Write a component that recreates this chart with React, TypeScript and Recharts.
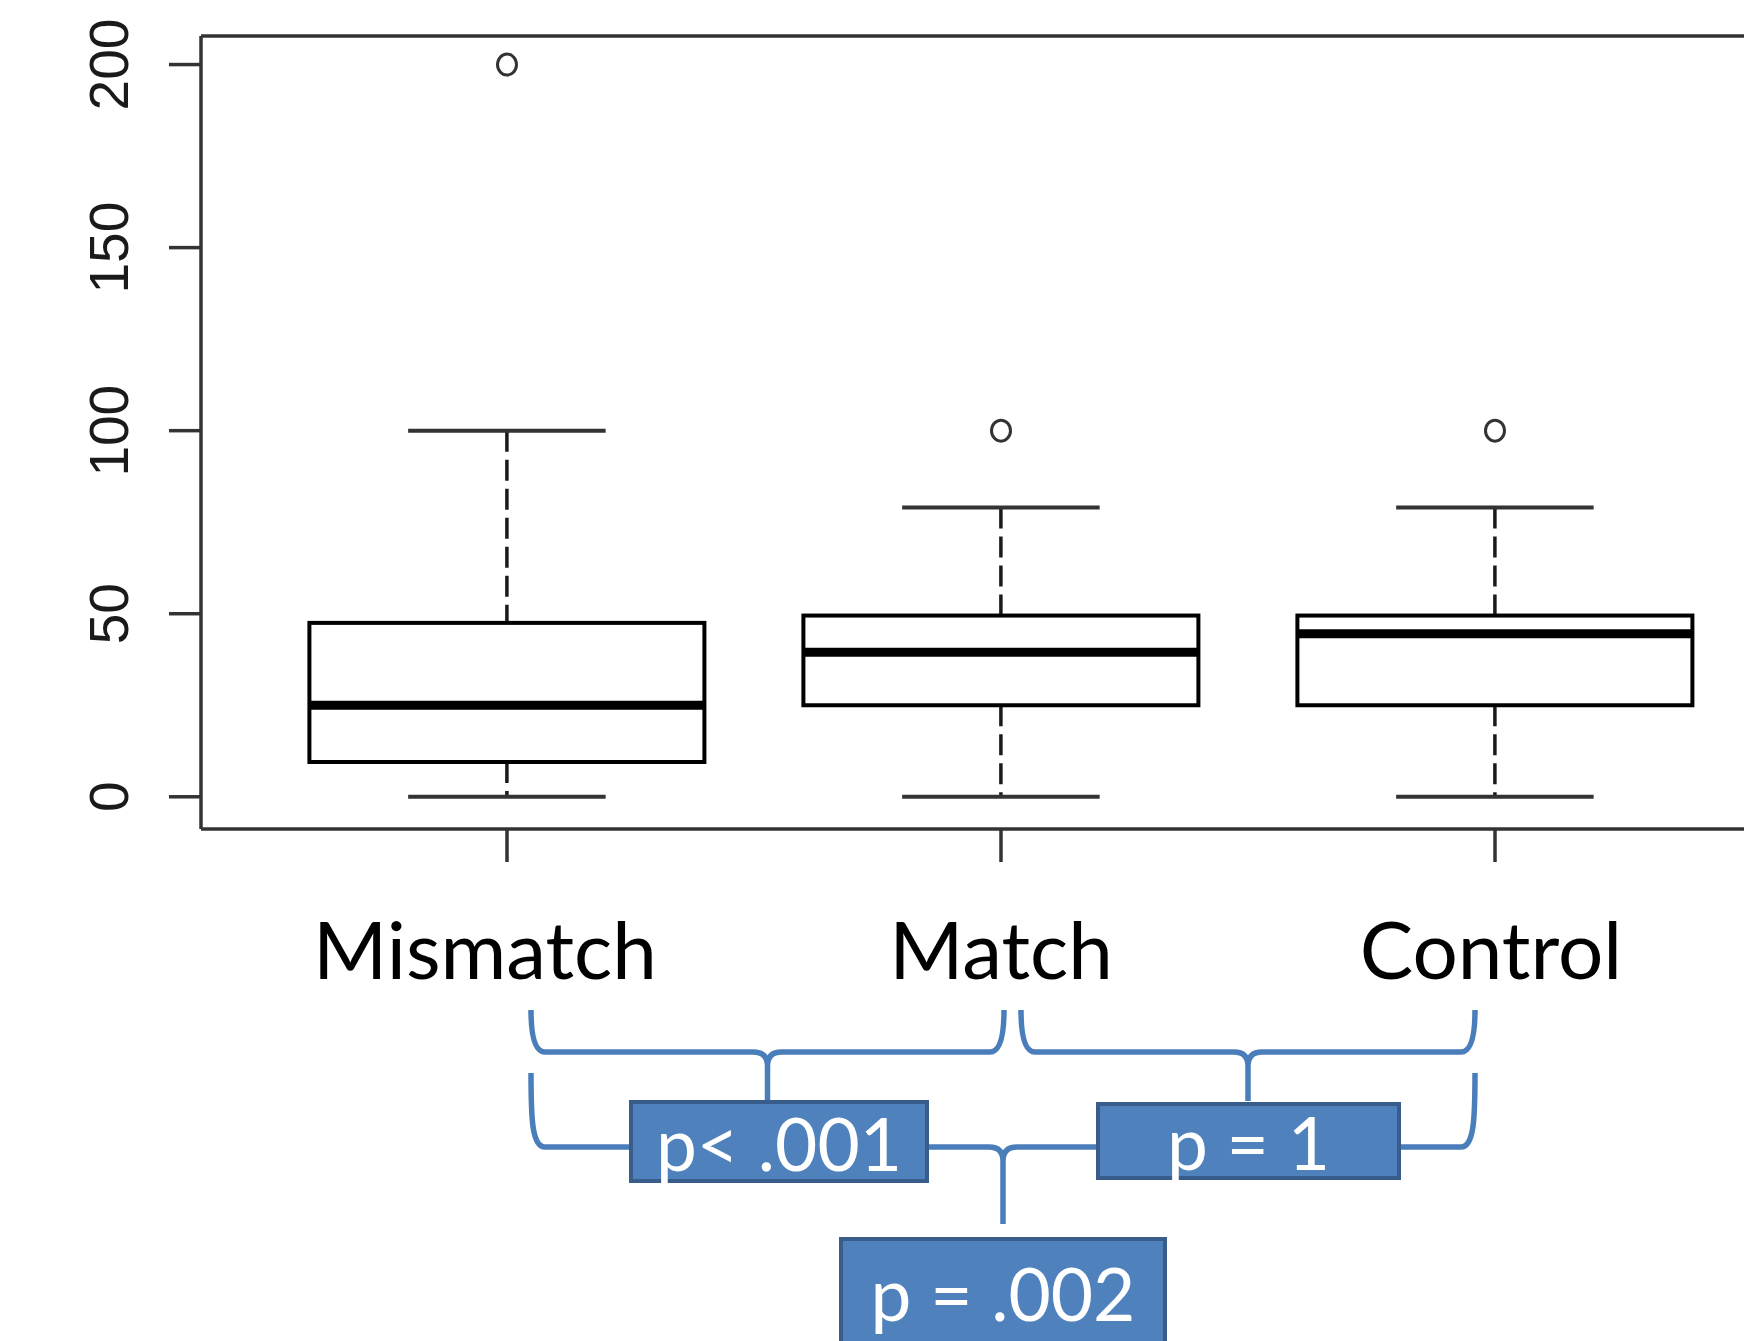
import React from 'react';
import { ComposedChart, Bar, Scatter, XAxis, YAxis, ReferenceLine } from 'recharts';

// box plot summary per group
const groups = ['Mismatch', 'Match', 'Control'];
const whiskerLow = [0, 0, 0];
const lowerQuartile = [9.5, 25, 25];
const medians = [25, 39.5, 44.5];
const upperQuartile = [47.5, 49.5, 49.5];
const whiskerHigh = [100, 79, 79];
const outliers = [200, 100, 100];

const yTicks = [0, 50, 100, 150, 200];
const yDomain: [number, number] = [-8.8, 207.8];

// pairwise comparisons drawn under the axis
const pValues = ['p< .001', 'p = 1', 'p = .002'];

const data = groups.map((name, i) => ({
  name,
  low: whiskerLow[i],
  q1: lowerQuartile[i],
  median: medians[i],
  q3: upperQuartile[i],
  high: whiskerHigh[i],
  base: lowerQuartile[i],
  span: upperQuartile[i] - lowerQuartile[i],
  outlier: outliers[i],
}));

// layout
const W = 1810;
const H = 1341;
const plotLeft = 201;
const padX = 59;
const band = 494;
const catX = (i: number) => plotLeft + padX + band * (i + 0.5);

const ink = '#1a1a1a';
const axisInk = '#333';
const blue = '#4F81BD';
const blueLine = '#4A7EBB';
const blueEdge = '#385D8A';

const BoxShape = (props: any) => {
  const { x, y, width, height, payload } = props;
  if (!payload || !height) return null;
  const k = height / (payload.q3 - payload.q1);
  const yOf = (v: number) => y + height - (v - payload.q1) * k;
  const cx = x + width / 2;
  const cap = width / 4;
  return (
    <g>
      <line x1={cx} x2={cx} y1={yOf(payload.high)} y2={y} stroke={ink} strokeWidth={3.5} strokeDasharray="21 8" />
      <line x1={cx} x2={cx} y1={y + height} y2={yOf(payload.low)} stroke={ink} strokeWidth={3.5} strokeDasharray="21 8" />
      <line x1={cx - cap} x2={cx + cap} y1={yOf(payload.high)} y2={yOf(payload.high)} stroke={axisInk} strokeWidth={4} />
      <line x1={cx - cap} x2={cx + cap} y1={yOf(payload.low)} y2={yOf(payload.low)} stroke={axisInk} strokeWidth={4} />
      <rect x={x} y={y} width={width} height={height} fill="#fff" stroke="#000" strokeWidth={4} />
      <line x1={x} x2={x + width} y1={yOf(payload.median)} y2={yOf(payload.median)} stroke="#000" strokeWidth={9} />
    </g>
  );
};

const Outlier = (props: any) => {
  const { cx, cy } = props;
  if (cx == null || cy == null) return null;
  return <ellipse cx={cx} cy={cy} rx={9.5} ry={10.5} fill="none" stroke={axisInk} strokeWidth={3} />;
};

const YTick = ({ x, y, payload }: any) => {
  const tx = x - 41;
  return (
    <text
      x={tx}
      y={y}
      transform={`rotate(-90, ${tx}, ${y})`}
      textAnchor="middle"
      fontFamily="'Liberation Sans', Arial, sans-serif"
      fontSize={55}
      fill={ink}
    >
      {payload.value}
    </text>
  );
};

const labelShift: Record<string, number> = { Mismatch: -22, Match: 0, Control: -4 };

const XTick = ({ x, y, payload }: any) => (
  <text
    x={x + (labelShift[payload.value] || 0)}
    y={y + 117}
    textAnchor="middle"
    fontFamily="Lato, 'Open Sans', sans-serif"
    fontSize={80}
    fill="#000"
  >
    {payload.value}
  </text>
);

const bracePath = (L: number, R: number, top: number, h: number, tip: number, r = 14) => {
  const M = (L + R) / 2;
  return [
    `M${L},${top}`,
    `C${L},${h - r * 2} ${L + 1},${h} ${L + r},${h}`,
    `L${M - r},${h}`,
    `Q${M},${h} ${M},${h + r}`,
    `L${M},${tip}`,
    `M${M},${h + r}`,
    `Q${M},${h} ${M + r},${h}`,
    `L${R - r},${h}`,
    `C${R - 1},${h} ${R},${h - r * 2} ${R},${top}`,
  ].join(' ');
};

const PBox = ({ x, y, w, h, label, baseline }: any) => (
  <g>
    <rect x={x} y={y} width={w} height={h} fill={blue} stroke={blueEdge} strokeWidth={4} />
    <text
      x={x + w / 2}
      y={baseline}
      textAnchor="middle"
      fontFamily="Lato, 'Open Sans', sans-serif"
      fontSize={73}
      fill="#fff"
    >
      {label}
    </text>
  </g>
);

const Annotations = () => {
  const c0 = catX(0);
  const c1 = catX(1);
  const c2 = catX(2);
  return (
    <svg width={1744} height={H} style={{ position: 'absolute', left: 0, top: 0 }}>
      <g fill="none" stroke={blueLine} strokeWidth={5.5} strokeLinecap="butt">
        <path d={bracePath(c0 + 24, c1 + 3, 1010, 1052, 1101)} />
        <path d={bracePath(c1 + 20, c2 - 20, 1010, 1052, 1101)} />
        <path d={bracePath(c0 + 24, c2 - 20, 1073, 1147, 1224)} />
      </g>
      <PBox x={631} y={1102} w={296} h={79} label={pValues[0]} baseline={1171} />
      <PBox x={1098} y={1104} w={301} h={74} label={pValues[1]} baseline={1170} />
      <PBox x={841} y={1239} w={324} h={130} label={pValues[2]} baseline={1321} />
    </svg>
  );
};

export default function App() {
  return (
    <div style={{ position: 'absolute', left: 0, top: 0, width: 1744, height: H, overflow: 'hidden', background: '#fff' }}>
      <ComposedChart
        width={W}
        height={H}
        data={data}
        margin={{ top: 36, right: W - 1801, bottom: 0, left: 0 }}
        barCategoryGap="10%"
      >
        <XAxis
          dataKey="name"
          type="category"
          padding={{ left: padX, right: padX }}
          height={512}
          tickSize={33}
          tickMargin={0}
          axisLine={{ stroke: axisInk, strokeWidth: 3.5 }}
          tickLine={{ stroke: axisInk, strokeWidth: 3.5 }}
          tick={<XTick />}
          interval={0}
        />
        <YAxis
          type="number"
          domain={yDomain}
          ticks={yTicks}
          width={plotLeft}
          tickSize={32}
          tickMargin={0}
          axisLine={{ stroke: axisInk, strokeWidth: 3.5 }}
          tickLine={{ stroke: axisInk, strokeWidth: 3.5 }}
          tick={<YTick />}
          allowDataOverflow
        />
        <ReferenceLine y={yDomain[1]} stroke={axisInk} strokeWidth={3.5} />
        <Bar dataKey="base" stackId="box" fill="none" isAnimationActive={false} />
        <Bar dataKey="span" stackId="box" shape={<BoxShape />} isAnimationActive={false} />
        <Scatter dataKey="outlier" shape={<Outlier />} isAnimationActive={false} />
      </ComposedChart>
      <Annotations />
    </div>
  );
}
